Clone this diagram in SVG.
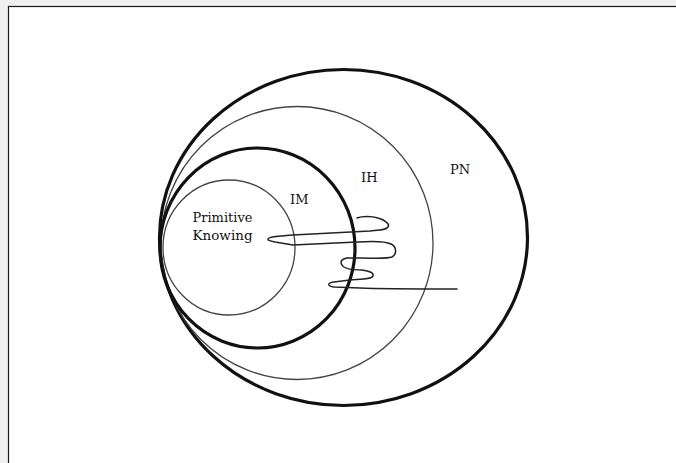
<svg xmlns="http://www.w3.org/2000/svg" width="676" height="463" viewBox="0 0 676 463">
  <style>
    .thick { fill: none; stroke: #111; stroke-width: 3.2; }
    .thin { fill: none; stroke: #444; stroke-width: 1.3; }
    .lbl { font-family: "DejaVu Serif", "Liberation Serif", serif; font-size: 13px; fill: #111; }
    .small { font-size: 13px; }
  </style>
  <rect x="0" y="0" width="676" height="463" fill="#efefef"/>
  <rect x="8.5" y="6.5" width="680" height="470" fill="#ffffff" stroke="#1a1a1a" stroke-width="1.2"/>
  <g id="PN">
    <ellipse class="thick" cx="343.5" cy="237.5" rx="184" ry="168" stroke-width="3"/>
    <text class="lbl" x="450" y="174">PN</text>
  </g>
  <g id="IH">
    <ellipse class="thin" cx="297" cy="243" rx="136" ry="136.5"/>
    <text class="lbl" x="361" y="182">IH</text>
  </g>
  <g id="IM">
    <ellipse class="thick" cx="257.5" cy="248" rx="97.5" ry="100" stroke-width="3.6"/>
    <text class="lbl" x="290" y="204">IM</text>
  </g>
  <g id="PrimitiveKnowing">
    <ellipse class="thin" cx="229" cy="247.5" rx="66" ry="67.5"/>
    <text class="lbl small" x="192.5" y="222" textLength="60" lengthAdjust="spacingAndGlyphs">Primitive</text>
    <text class="lbl small" x="192.5" y="240" textLength="60" lengthAdjust="spacingAndGlyphs">Knowing</text>
  </g>
  <g id="connectors">
    <path fill="none" stroke="#222" stroke-width="1.5" stroke-linecap="round" stroke-linejoin="round"
      d="M357,218 C362,216 372,216 378,218 C385,220 390,224 388,227 C386,230 380,230 370,231 L293,235 C283,236 272,236 269,238 C266,240 270,241 275,242 L293,245 L357,242 C372,241 385,241 391,244 C397,247 397,254 392,257 C386,259 375,258 360,258 L347,258 C341,259 340,262 342,265 C344,269 352,270 362,270 C370,271 374,273 373,276 C372,279 362,279 350,280 L334,282 C327,283 327,286 334,287 L360,288 C380,289 420,289 457,289"/>
  </g>
</svg>
